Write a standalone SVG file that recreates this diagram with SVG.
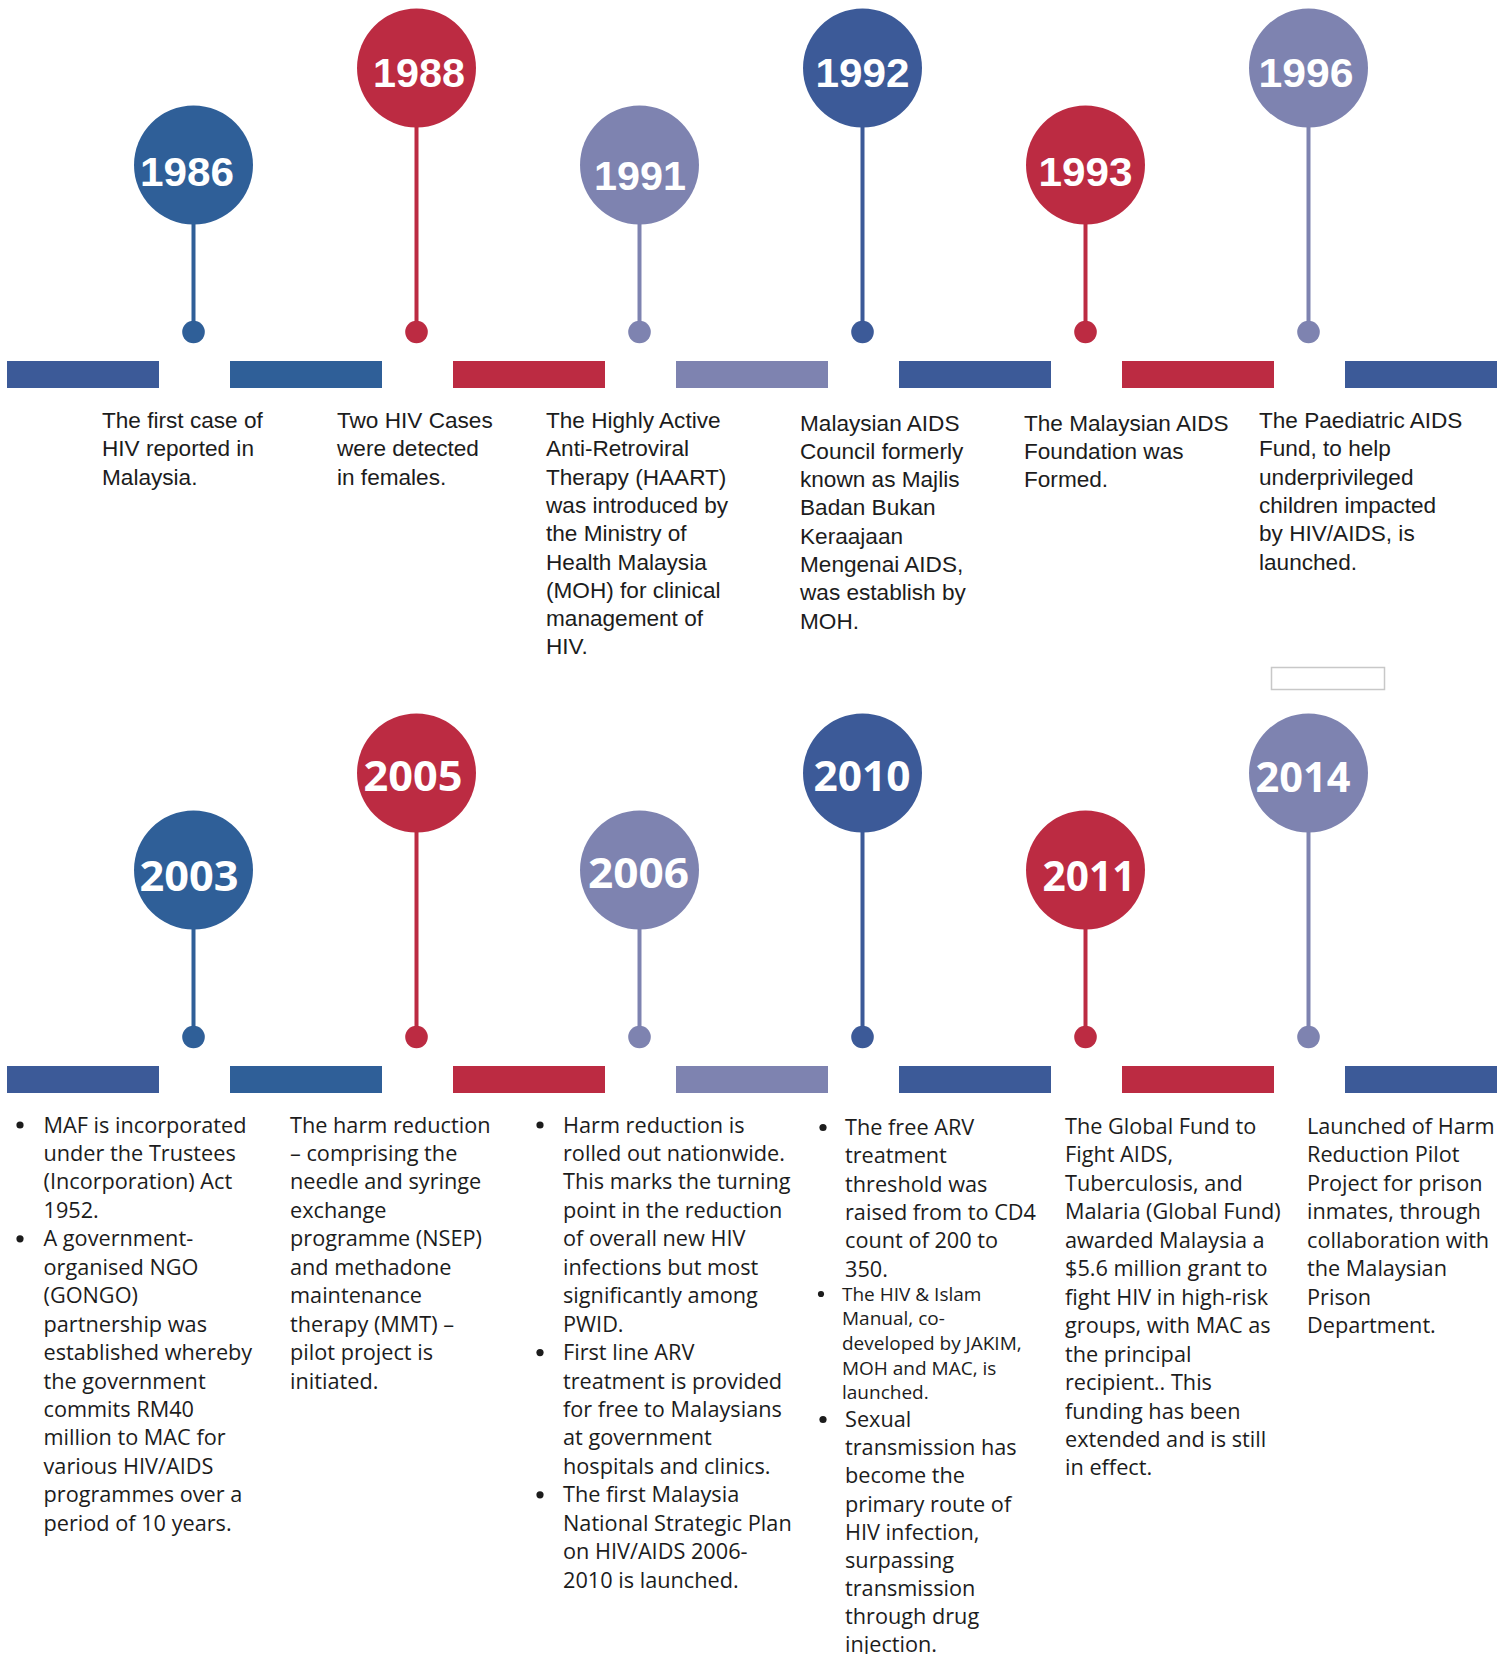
<svg xmlns="http://www.w3.org/2000/svg" width="1510" height="1654" viewBox="0 0 1510 1654">
<style>
.yrT{font-family:"Liberation Sans",Arial,sans-serif;font-weight:bold;font-size:40px;fill:#fff;text-anchor:middle}
.yrB{font-family:"Open Sans","Liberation Sans",sans-serif;font-weight:bold;font-size:41px;fill:#fff;text-anchor:middle}
.dT{font-family:"Liberation Sans",Arial,sans-serif;font-size:22.6px;fill:#1c1c1c}
.dB{font-family:"Open Sans","Liberation Sans",sans-serif;font-size:21.7px;fill:#1c1c1c}
.dS{font-family:"Open Sans","Liberation Sans",sans-serif;font-size:19px;fill:#1c1c1c}
.bul{fill:#1c1c1c}
.blue1{fill:#2F5F98}.blue2{fill:#3C5A98}.red{fill:#BC2B42}.lav{fill:#7E83B0}
.ln{stroke-width:4;fill:none}
</style>
<rect width="1510" height="1654" fill="#fff"/>

<g id="timeline-bars">
<rect x="7" y="361" width="152" height="27" class="blue2"/>
<rect x="230" y="361" width="152" height="27" class="blue1"/>
<rect x="453" y="361" width="152" height="27" class="red"/>
<rect x="676" y="361" width="152" height="27" class="lav"/>
<rect x="899" y="361" width="152" height="27" class="blue2"/>
<rect x="1122" y="361" width="152" height="27" class="red"/>
<rect x="1345" y="361" width="152" height="27" class="blue2"/>
<rect x="7" y="1066" width="152" height="27" class="blue2"/>
<rect x="230" y="1066" width="152" height="27" class="blue1"/>
<rect x="453" y="1066" width="152" height="27" class="red"/>
<rect x="676" y="1066" width="152" height="27" class="lav"/>
<rect x="899" y="1066" width="152" height="27" class="blue2"/>
<rect x="1122" y="1066" width="152" height="27" class="red"/>
<rect x="1345" y="1066" width="152" height="27" class="blue2"/>
</g>

<g id="connectors">
<line x1="193.5" y1="222" x2="193.5" y2="332" class="ln" stroke="#2F5F98"/>
<line x1="416.5" y1="125" x2="416.5" y2="332" class="ln" stroke="#BC2B42"/>
<line x1="639.5" y1="222" x2="639.5" y2="332" class="ln" stroke="#7E83B0"/>
<line x1="862.5" y1="125" x2="862.5" y2="332" class="ln" stroke="#3C5A98"/>
<line x1="1085.5" y1="222" x2="1085.5" y2="332" class="ln" stroke="#BC2B42"/>
<line x1="1308.5" y1="125" x2="1308.5" y2="332" class="ln" stroke="#7E83B0"/>
<line x1="193.5" y1="927" x2="193.5" y2="1037" class="ln" stroke="#2F5F98"/>
<line x1="416.5" y1="830" x2="416.5" y2="1037" class="ln" stroke="#BC2B42"/>
<line x1="639.5" y1="927" x2="639.5" y2="1037" class="ln" stroke="#7E83B0"/>
<line x1="862.5" y1="830" x2="862.5" y2="1037" class="ln" stroke="#3C5A98"/>
<line x1="1085.5" y1="927" x2="1085.5" y2="1037" class="ln" stroke="#BC2B42"/>
<line x1="1308.5" y1="830" x2="1308.5" y2="1037" class="ln" stroke="#7E83B0"/>
</g>

<g id="node-1986">
<circle cx="193.5" cy="165" r="59.5" class="blue1"/>
<circle cx="193.5" cy="332" r="11.3" class="blue1"/>
<text x="187" y="186" class="yrT" textLength="94" lengthAdjust="spacingAndGlyphs">1986</text>
<text class="dT"><tspan x="102" y="428">The first case of</tspan><tspan x="102" y="456.3">HIV reported in</tspan><tspan x="102" y="484.6">Malaysia.</tspan></text>
</g>

<g id="node-1988">
<circle cx="416.5" cy="68" r="59.5" class="red"/>
<circle cx="416.5" cy="332" r="11.3" class="red"/>
<text x="419" y="87" class="yrT" textLength="92" lengthAdjust="spacingAndGlyphs">1988</text>
<text class="dT"><tspan x="337" y="428">Two HIV Cases</tspan><tspan x="337" y="456.3">were detected</tspan><tspan x="337" y="484.6">in females.</tspan></text>
</g>

<g id="node-1991">
<circle cx="639.5" cy="165" r="59.5" class="lav"/>
<circle cx="639.5" cy="332" r="11.3" class="lav"/>
<text x="640" y="190" class="yrT" textLength="92" lengthAdjust="spacingAndGlyphs">1991</text>
<text class="dT"><tspan x="546" y="428">The Highly Active</tspan><tspan x="546" y="456.3">Anti-Retroviral</tspan><tspan x="546" y="484.6">Therapy (HAART)</tspan><tspan x="546" y="512.9">was introduced by</tspan><tspan x="546" y="541.2">the Ministry of</tspan><tspan x="546" y="569.5">Health Malaysia</tspan><tspan x="546" y="597.8">(MOH) for clinical</tspan><tspan x="546" y="626.1">management of</tspan><tspan x="546" y="654.4">HIV.</tspan></text>
</g>

<g id="node-1992">
<circle cx="862.5" cy="68" r="59.5" class="blue2"/>
<circle cx="862.5" cy="332" r="11.3" class="blue2"/>
<text x="862.5" y="87" class="yrT" textLength="94" lengthAdjust="spacingAndGlyphs">1992</text>
<text class="dT"><tspan x="800" y="430.5">Malaysian AIDS</tspan><tspan x="800" y="458.8">Council formerly</tspan><tspan x="800" y="487.1">known as Majlis</tspan><tspan x="800" y="515.4">Badan Bukan</tspan><tspan x="800" y="543.7">Keraajaan</tspan><tspan x="800" y="572">Mengenai AIDS,</tspan><tspan x="800" y="600.3">was establish by</tspan><tspan x="800" y="628.6">MOH.</tspan></text>
</g>

<g id="node-1993">
<circle cx="1085.5" cy="165" r="59.5" class="red"/>
<circle cx="1085.5" cy="332" r="11.3" class="red"/>
<text x="1085.5" y="186" class="yrT" textLength="94" lengthAdjust="spacingAndGlyphs">1993</text>
<text class="dT"><tspan x="1024" y="430.5">The Malaysian AIDS</tspan><tspan x="1024" y="458.8">Foundation was</tspan><tspan x="1024" y="487.1">Formed.</tspan></text>
</g>

<g id="node-1996">
<circle cx="1308.5" cy="68" r="59.5" class="lav"/>
<circle cx="1308.5" cy="332" r="11.3" class="lav"/>
<text x="1306" y="87" class="yrT" textLength="95" lengthAdjust="spacingAndGlyphs">1996</text>
<text class="dT"><tspan x="1259" y="428">The Paediatric AIDS</tspan><tspan x="1259" y="456.3">Fund, to help</tspan><tspan x="1259" y="484.6">underprivileged</tspan><tspan x="1259" y="512.9">children impacted</tspan><tspan x="1259" y="541.2">by HIV/AIDS, is</tspan><tspan x="1259" y="569.5">launched.</tspan></text>
</g>

<rect id="empty-box" x="1271.5" y="667.5" width="113" height="22" fill="#fff" stroke="#c8c8c8" stroke-width="1.5"/>

<g id="node-2003">
<circle cx="193.5" cy="870" r="59.5" class="blue1"/>
<circle cx="193.5" cy="1037" r="11.3" class="blue1"/>
<text x="189" y="891" class="yrB" textLength="99" lengthAdjust="spacingAndGlyphs">2003</text>
<circle cx="20" cy="1125" r="3.6" class="bul"/>
<circle cx="20" cy="1238.8" r="3.6" class="bul"/>
<text class="dB"><tspan x="43.5" y="1132.5">MAF is incorporated</tspan><tspan x="43.5" y="1160.95">under the Trustees</tspan><tspan x="43.5" y="1189.4">(Incorporation) Act</tspan><tspan x="43.5" y="1217.85">1952.</tspan><tspan x="43.5" y="1246.3">A government-</tspan><tspan x="43.5" y="1274.75">organised NGO</tspan><tspan x="43.5" y="1303.2">(GONGO)</tspan><tspan x="43.5" y="1331.65">partnership was</tspan><tspan x="43.5" y="1360.1">established whereby</tspan><tspan x="43.5" y="1388.55">the government</tspan><tspan x="43.5" y="1417">commits RM40</tspan><tspan x="43.5" y="1445.45">million to MAC for</tspan><tspan x="43.5" y="1473.9">various HIV/AIDS</tspan><tspan x="43.5" y="1502.35">programmes over a</tspan><tspan x="43.5" y="1530.8">period of 10 years.</tspan></text>
</g>

<g id="node-2005">
<circle cx="416.5" cy="773" r="59.5" class="red"/>
<circle cx="416.5" cy="1037" r="11.3" class="red"/>
<text x="413" y="791" class="yrB" textLength="99" lengthAdjust="spacingAndGlyphs">2005</text>
<text class="dB"><tspan x="290" y="1132.5">The harm reduction</tspan><tspan x="290" y="1160.95">– comprising the</tspan><tspan x="290" y="1189.4">needle and syringe</tspan><tspan x="290" y="1217.85">exchange</tspan><tspan x="290" y="1246.3">programme (NSEP)</tspan><tspan x="290" y="1274.75">and methadone</tspan><tspan x="290" y="1303.2">maintenance</tspan><tspan x="290" y="1331.65">therapy (MMT) –</tspan><tspan x="290" y="1360.1">pilot project is</tspan><tspan x="290" y="1388.55">initiated.</tspan></text>
</g>

<g id="node-2006">
<circle cx="639.5" cy="870" r="59.5" class="lav"/>
<circle cx="639.5" cy="1037" r="11.3" class="lav"/>
<text x="638.5" y="888" class="yrB" textLength="101" lengthAdjust="spacingAndGlyphs">2006</text>
<circle cx="540" cy="1125" r="3.6" class="bul"/>
<circle cx="540" cy="1352.6" r="3.6" class="bul"/>
<circle cx="540" cy="1494.8" r="3.6" class="bul"/>
<text class="dB"><tspan x="563" y="1132.5">Harm reduction is</tspan><tspan x="563" y="1160.95">rolled out nationwide.</tspan><tspan x="563" y="1189.4">This marks the turning</tspan><tspan x="563" y="1217.85">point in the reduction</tspan><tspan x="563" y="1246.3">of overall new HIV</tspan><tspan x="563" y="1274.75">infections but most</tspan><tspan x="563" y="1303.2">significantly among</tspan><tspan x="563" y="1331.65">PWID.</tspan><tspan x="563" y="1360.1">First line ARV</tspan><tspan x="563" y="1388.55">treatment is provided</tspan><tspan x="563" y="1417">for free to Malaysians</tspan><tspan x="563" y="1445.45">at government</tspan><tspan x="563" y="1473.9">hospitals and clinics.</tspan><tspan x="563" y="1502.35">The first Malaysia</tspan><tspan x="563" y="1530.8">National Strategic Plan</tspan><tspan x="563" y="1559.25">on HIV/AIDS 2006-</tspan><tspan x="563" y="1587.7">2010 is launched.</tspan></text>
</g>

<g id="node-2010">
<circle cx="862.5" cy="773" r="59.5" class="blue2"/>
<circle cx="862.5" cy="1037" r="11.3" class="blue2"/>
<text x="862" y="791" class="yrB" textLength="97" lengthAdjust="spacingAndGlyphs">2010</text>
<circle cx="823" cy="1127.5" r="3.6" class="bul"/>
<circle cx="821" cy="1294" r="3.1" class="bul"/>
<circle cx="823" cy="1419.5" r="3.6" class="bul"/>
<text class="dB"><tspan x="845" y="1135">The free ARV</tspan><tspan x="845" y="1163.3">treatment</tspan><tspan x="845" y="1191.6">threshold was</tspan><tspan x="845" y="1219.9">raised from to CD4</tspan><tspan x="845" y="1248.2">count of 200 to</tspan><tspan x="845" y="1276.5">350.</tspan></text>
<text class="dS"><tspan x="842" y="1300.7">The HIV &amp; Islam</tspan><tspan x="842" y="1325.3">Manual, co-</tspan><tspan x="842" y="1349.9">developed by JAKIM,</tspan><tspan x="842" y="1374.5">MOH and MAC, is</tspan><tspan x="842" y="1399.1">launched.</tspan></text>
<text class="dB"><tspan x="845" y="1427">Sexual</tspan><tspan x="845" y="1455.2">transmission has</tspan><tspan x="845" y="1483.4">become the</tspan><tspan x="845" y="1511.6">primary route of</tspan><tspan x="845" y="1539.8">HIV infection,</tspan><tspan x="845" y="1568">surpassing</tspan><tspan x="845" y="1596.2">transmission</tspan><tspan x="845" y="1624.4">through drug</tspan><tspan x="845" y="1651.5">injection.</tspan></text>
</g>

<g id="node-2011">
<circle cx="1085.5" cy="870" r="59.5" class="red"/>
<circle cx="1085.5" cy="1037" r="11.3" class="red"/>
<text x="1089" y="891" class="yrB" textLength="93" lengthAdjust="spacingAndGlyphs">2011</text>
<text class="dB"><tspan x="1065" y="1134">The Global Fund to</tspan><tspan x="1065" y="1162.45">Fight AIDS,</tspan><tspan x="1065" y="1190.9">Tuberculosis, and</tspan><tspan x="1065" y="1219.35">Malaria (Global Fund)</tspan><tspan x="1065" y="1247.8">awarded Malaysia a</tspan><tspan x="1065" y="1276.25">$5.6 million grant to</tspan><tspan x="1065" y="1304.7">fight HIV in high-risk</tspan><tspan x="1065" y="1333.15">groups, with MAC as</tspan><tspan x="1065" y="1361.6">the principal</tspan><tspan x="1065" y="1390.05">recipient.. This</tspan><tspan x="1065" y="1418.5">funding has been</tspan><tspan x="1065" y="1446.95">extended and is still</tspan><tspan x="1065" y="1475.4">in effect.</tspan></text>
</g>

<g id="node-2014">
<circle cx="1308.5" cy="773" r="59.5" class="lav"/>
<circle cx="1308.5" cy="1037" r="11.3" class="lav"/>
<text x="1303" y="792" class="yrB" textLength="95" lengthAdjust="spacingAndGlyphs">2014</text>
<text class="dB"><tspan x="1307" y="1134">Launched of Harm</tspan><tspan x="1307" y="1162.45">Reduction Pilot</tspan><tspan x="1307" y="1190.9">Project for prison</tspan><tspan x="1307" y="1219.35">inmates, through</tspan><tspan x="1307" y="1247.8">collaboration with</tspan><tspan x="1307" y="1276.25">the Malaysian</tspan><tspan x="1307" y="1304.7">Prison</tspan><tspan x="1307" y="1333.15">Department.</tspan></text>
</g>
</svg>
